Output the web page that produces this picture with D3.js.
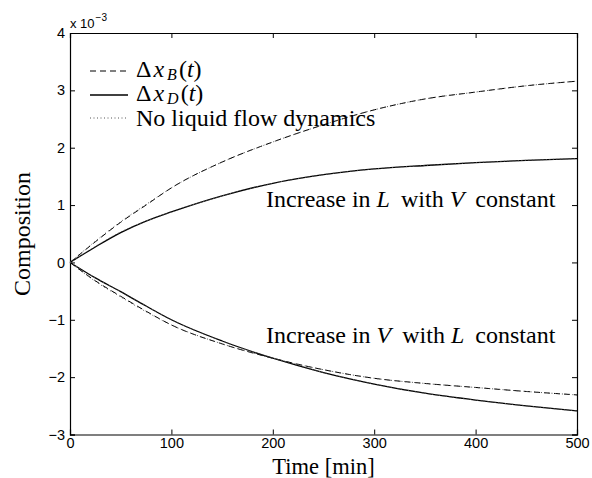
<!DOCTYPE html>
<html>
<head>
<meta charset="utf-8">
<script src="https://cdn.jsdelivr.net/npm/d3@7"></script>
<style>
  body { margin: 0; background: #fff; }
  svg { display: block; }
</style>
</head>
<body>
<div id="chart"></div>
<script>
// time points [min]
const timePoints = [0, 25, 50, 75, 100, 150, 200, 250, 300, 350, 400, 450, 500];

// increase in L with V constant (x 1e-3)
const lIncXB = [0, 0.36, 0.70, 1.00, 1.30, 1.75, 2.10, 2.40, 2.66, 2.85, 2.97, 3.08, 3.16];
const lIncXD = [0, 0.27, 0.52, 0.72, 0.88, 1.16, 1.38, 1.53, 1.63, 1.69, 1.74, 1.78, 1.81];
const lIncXBNoDyn = [0, 0.37, 0.71, 1.01, 1.30, 1.75, 2.10, 2.40, 2.66, 2.85, 2.97, 3.08, 3.16];
const lIncXDNoDyn = [0, 0.28, 0.53, 0.72, 0.88, 1.16, 1.38, 1.53, 1.63, 1.69, 1.74, 1.78, 1.81];

// increase in V with L constant (x 1e-3)
const vIncXB = [0, -0.32, -0.59, -0.85, -1.09, -1.42, -1.67, -1.87, -2.02, -2.11, -2.18, -2.25, -2.31];
const vIncXD = [0, -0.27, -0.51, -0.76, -1.00, -1.37, -1.67, -1.92, -2.12, -2.28, -2.40, -2.50, -2.59];
const vIncXBNoDyn = [0, -0.33, -0.60, -0.86, -1.09, -1.42, -1.67, -1.87, -2.02, -2.11, -2.18, -2.25, -2.31];
const vIncXDNoDyn = [0, -0.27, -0.51, -0.76, -1.00, -1.37, -1.67, -1.92, -2.12, -2.28, -2.40, -2.50, -2.59];

const xTicks = [0, 100, 200, 300, 400, 500];
const yTicks = [-3, -2, -1, 0, 1, 2, 3, 4];

const W = 592, H = 478;
const plot = { left: 70, right: 577, top: 33, bottom: 434.5 };

const svg = d3.select("#chart").append("svg")
    .attr("width", W)
    .attr("height", H);

const x = d3.scaleLinear().domain([0, 500]).range([plot.left, plot.right]);
const y = d3.scaleLinear().domain([-3, 4]).range([plot.bottom, plot.top]);

const tickFont = "'Liberation Sans', Arial, sans-serif";
const serif = "'Liberation Serif', 'Times New Roman', serif";
const bigSize = "24px";

// axes (MATLAB style box, ticks inward)
const gx = svg.append("g")
    .attr("transform", `translate(0,${plot.bottom})`)
    .call(d3.axisBottom(x).tickValues(xTicks).tickSize(-5).tickPadding(6).tickFormat(d3.format("d")));
const gxTop = svg.append("g")
    .attr("transform", `translate(0,${plot.top})`)
    .call(d3.axisTop(x).tickValues(xTicks).tickSize(-5).tickFormat(""));
const gy = svg.append("g")
    .attr("transform", `translate(${plot.left},0)`)
    .call(d3.axisLeft(y).tickValues(yTicks).tickSize(-5).tickPadding(5)
        .tickFormat(d => d < 0 ? "\u2212" + Math.abs(d) : d));
const gyRight = svg.append("g")
    .attr("transform", `translate(${plot.right},0)`)
    .call(d3.axisRight(y).tickValues(yTicks).tickSize(-5).tickFormat(""));

[gx, gxTop, gy, gyRight].forEach(g => {
    g.select(".domain").attr("stroke", "#000").attr("stroke-width", 1.2);
    g.selectAll(".tick line").attr("stroke", "#000");
    g.selectAll(".tick text")
        .attr("fill", "#000")
        .style("font-family", tickFont)
        .style("font-size", "14.5px");
});
gx.selectAll(".tick text").attr("dy", "0.55em");

// exponent label
const expo = svg.append("text")
    .attr("x", plot.left)
    .attr("y", 28)
    .style("font-family", tickFont)
    .style("font-size", "13px");
expo.append("tspan").text("x 10");
expo.append("tspan").attr("dy", -7).attr("dx", 1).style("font-size", "10px").text("\u22123");

// curves
const line = d3.line()
    .x((d, i) => x(timePoints[i]))
    .y(d => y(d))
    .curve(d3.curveMonotoneX);

const styles = {
    xb: { dash: "6,4", width: 1, color: "#000" },
    xd: { dash: null, width: 1.3, color: "#000" },
    nd: { dash: "1,2.5", width: 1, color: "#555" }
};

const series = [
    { values: lIncXB, s: styles.xb },
    { values: lIncXD, s: styles.xd },
    { values: vIncXB, s: styles.xb },
    { values: vIncXD, s: styles.xd },
    { values: lIncXBNoDyn, s: styles.nd },
    { values: lIncXDNoDyn, s: styles.nd },
    { values: vIncXBNoDyn, s: styles.nd },
    { values: vIncXDNoDyn, s: styles.nd }
];

svg.append("g").selectAll("path")
    .data(series)
    .join("path")
    .attr("d", d => line(d.values))
    .attr("fill", "none")
    .attr("stroke", d => d.s.color)
    .attr("stroke-width", d => d.s.width)
    .attr("stroke-dasharray", d => d.s.dash);

// legend
const legendRows = [
    { s: styles.xb, sub: "B", y: 71 },
    { s: styles.xd, sub: "D", y: 95 },
    { s: styles.nd, label: "No liquid flow dynamics", y: 118 }
];
const legend = svg.append("g");
legendRows.forEach(r => {
    legend.append("line")
        .attr("x1", 90).attr("x2", 128)
        .attr("y1", r.y).attr("y2", r.y)
        .attr("stroke", r.s.color)
        .attr("stroke-width", r.s.width)
        .attr("stroke-dasharray", r.s.dash);
    const t = legend.append("text")
        .attr("x", 136)
        .attr("y", r.y + 6)
        .style("font-family", serif)
        .style("font-size", bigSize);
    if (r.label) {
        t.attr("y", r.y + 8).text(r.label);
    } else {
        t.append("tspan").text("\u0394");
        t.append("tspan").attr("dx", 2).style("font-style", "italic").text("x");
        t.append("tspan").attr("dx", 3).attr("dy", 3).style("font-style", "italic").style("font-size", "16px").text(r.sub);
        t.append("tspan").attr("dx", 2).attr("dy", -3).text("(");
        t.append("tspan").style("font-style", "italic").text("t");
        t.append("tspan").text(")");
    }
});

// annotations
function annotate(yPos, a, b) {
    const t = svg.append("text")
        .attr("x", 266)
        .attr("y", yPos)
        .style("font-family", serif)
        .style("font-size", bigSize);
    t.append("tspan").text("Increase in ");
    t.append("tspan").style("font-style", "italic").text(a);
    t.append("tspan").attr("dx", 5).text(" with ");
    t.append("tspan").style("font-style", "italic").text(b);
    t.append("tspan").attr("dx", 5).text(" constant");
}
annotate(207, "L", "V");
annotate(343, "V", "L");

// axis titles
svg.append("text")
    .attr("x", (plot.left + plot.right) / 2)
    .attr("y", 473.5)
    .attr("text-anchor", "middle")
    .style("font-family", serif)
    .style("font-size", "22.5px")
    .text("Time [min]");

svg.append("text")
    .attr("transform", `translate(30,234) rotate(-90)`)
    .attr("text-anchor", "middle")
    .style("font-family", serif)
    .style("font-size", bigSize)
    .text("Composition");
</script>
</body>
</html>
